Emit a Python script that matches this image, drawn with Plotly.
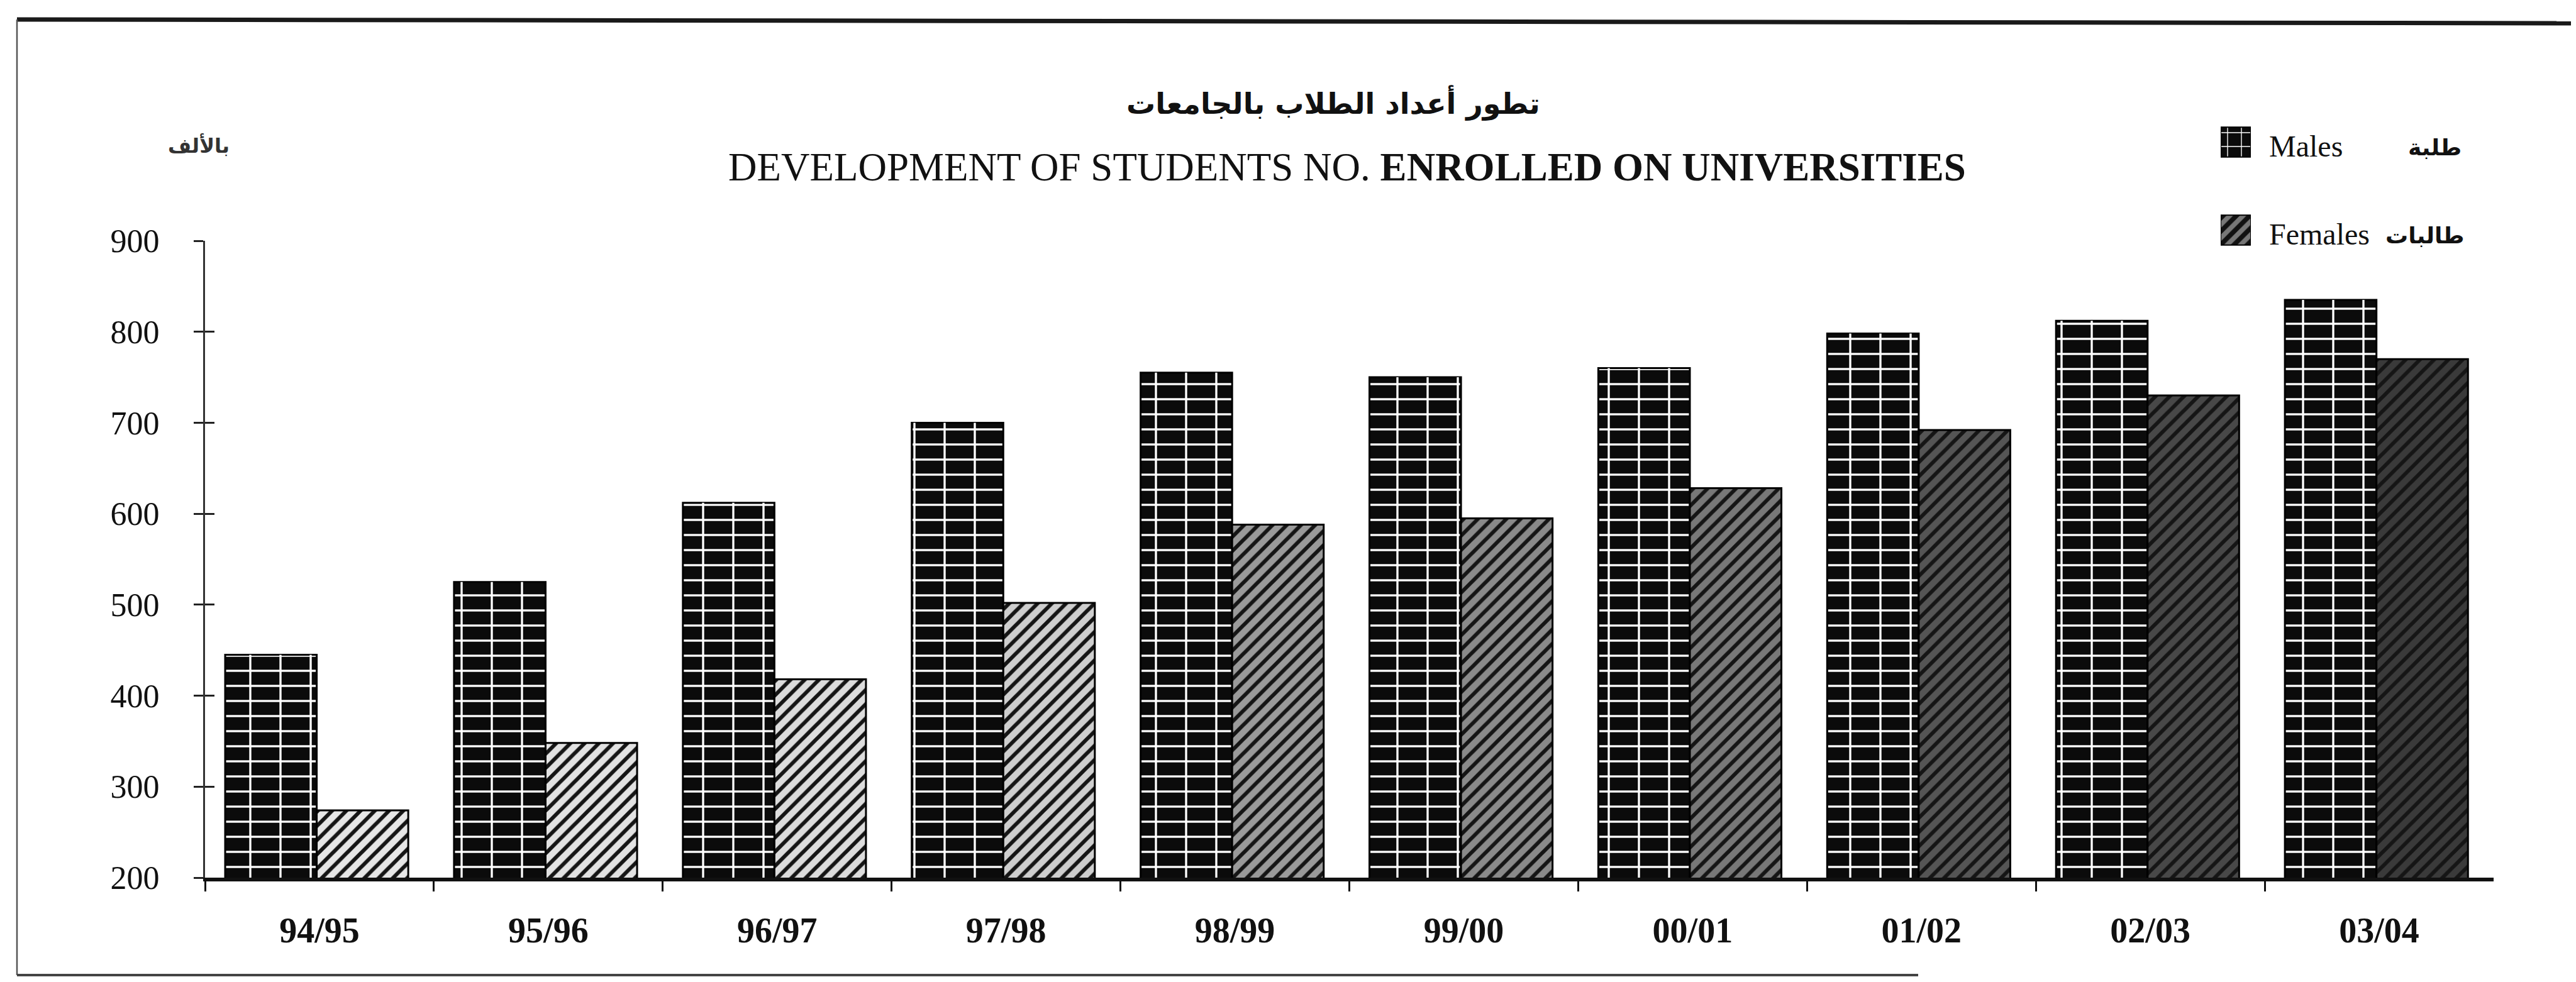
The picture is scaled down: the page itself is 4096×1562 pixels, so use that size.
import plotly.graph_objects as go

# ---------------- data ----------------
categories = ["94/95", "95/96", "96/97", "97/98", "98/99", "99/00", "00/01", "01/02", "02/03", "03/04"]
males = [445, 525, 612, 700, 755, 750, 760, 798, 812, 835]
females = [274, 348, 418, 502, 588, 595, 628, 692, 730, 770]
y_ticks = [200, 300, 400, 500, 600, 700, 800, 900]
title_ar = "تطور أعداد الطلاب بالجامعات"
title_en_1 = "DEVELOPMENT OF STUDENTS NO."
title_en_2 = "ENROLLED ON UNIVERSITIES"
unit_label = "بالألف"
legend_en = ["Males", "Females"]
legend_ar = ["طلبة", "طالبات"]

# ---------------- geometry helpers (window pixels -> paper) ----------------
# the page body has an 8px margin, so the figure is sized to fit inside it
PAD = 8
W, H = 4096 - 2 * PAD, 1562 - 2 * PAD
def fx(p):
    return (p - PAD) / W
def fy(p):
    return 1 - (p - PAD) / H

X0, X1 = 326, 3965     # plot area left/right (window px)
YT, YB = 383, 1396     # plot area top/bottom (window px)

SERIF = "Liberation Serif"
ARAB = "DejaVu Sans"

fem_bg = ["#e6e6e6", "#e2e2e2", "#dcdcdc", "#cecece", "#9a9a9a",
          "#8a8a8a", "#787878", "#555555", "#484848", "#3a3a3a"]

fig = go.Figure()

# Males: dark bricks (horizontal mortar + vertical joints)
fig.add_trace(go.Bar(
    x=categories, y=males, name=legend_en[0],
    offset=-0.412, width=0.40,
    marker=dict(color="#0b0b0b", line=dict(color="#000", width=3),
                pattern=dict(shape="-", size=24, solidity=0.14,
                             fgcolor="white", bgcolor="#0b0b0b", fillmode="replace")),
    showlegend=False,
))
fig.add_trace(go.Bar(
    x=categories, y=males, name=legend_en[0] + " joints",
    offset=-0.412, width=0.40,
    marker=dict(color="rgba(0,0,0,0)", line=dict(width=0),
                pattern=dict(shape="|", size=48, solidity=0.07,
                             fgcolor="white", bgcolor="rgba(0,0,0,0)", fillmode="replace")),
    showlegend=False, hoverinfo="skip",
))
# Females: diagonal hatching
fig.add_trace(go.Bar(
    x=categories, y=females, name=legend_en[1],
    offset=-0.012, width=0.40,
    marker=dict(color="#222", line=dict(color="#000", width=3),
                pattern=dict(shape="/", size=16, solidity=0.38,
                             fgcolor="#151515", bgcolor=fem_bg, fillmode="replace")),
    showlegend=False,
))

# invisible trace to activate the crossing-tick overlay axis
fig.add_trace(go.Scatter(x=[categories[0]], y=[y_ticks[0]], yaxis="y2", mode="markers",
                         marker=dict(opacity=0), showlegend=False, hoverinfo="skip"))

# legend swatches on a tiny helper subplot
fig.add_trace(go.Bar(x=[1], y=[legend_en[0]], orientation="h", width=0.34,
                     xaxis="x3", yaxis="y3", showlegend=False, hoverinfo="skip",
                     marker=dict(color="#0b0b0b", line=dict(color="#000", width=2),
                                 pattern=dict(shape="+", size=22, solidity=0.12,
                                              fgcolor="white", bgcolor="#0b0b0b", fillmode="replace"))))
fig.add_trace(go.Bar(x=[1], y=[legend_en[1]], orientation="h", width=0.34,
                     xaxis="x3", yaxis="y3", showlegend=False, hoverinfo="skip",
                     marker=dict(color="#222", line=dict(color="#000", width=2),
                                 pattern=dict(shape="/", size=15, solidity=0.5,
                                              fgcolor="#111", bgcolor="#777", fillmode="replace"))))

fig.update_layout(
    width=W, height=H,
    margin=dict(l=0, r=0, t=0, b=0, autoexpand=False),
    paper_bgcolor="white", plot_bgcolor="white",
    barmode="overlay",
    showlegend=False,
    font=dict(family=SERIF, color="#111"),
    xaxis=dict(
        domain=[fx(X0), fx(X1)], anchor="y", automargin=False,
        type="category", categoryorder="array", categoryarray=categories,
        range=[-0.5, len(categories) - 0.5],
        tickson="boundaries", ticks="outside", ticklen=16, tickwidth=3, tickcolor="#111",
        showline=True, linewidth=6, linecolor="#111",
        showgrid=False, zeroline=False,
        tickfont=dict(family=SERIF, size=56, color="#111", weight="bold"),
        ticklabelstandoff=30,
    ),
    yaxis=dict(
        domain=[fy(YB), fy(YT)], anchor="x", automargin=False,
        range=[y_ticks[0], y_ticks[-1]],
        tickmode="array", tickvals=y_ticks,
        ticks="outside", ticklen=15, tickwidth=3, tickcolor="#222",
        showline=True, linewidth=3, linecolor="#333",
        showgrid=False, zeroline=False,
        tickfont=dict(family=SERIF, size=52, color="#111"),
        ticklabelstandoff=44,
    ),
    yaxis2=dict(
        overlaying="y", anchor="x", side="left", automargin=False,
        range=[y_ticks[0], y_ticks[-1]],
        tickmode="array", tickvals=y_ticks,
        ticks="inside", ticklen=15, tickwidth=3, tickcolor="#222",
        showticklabels=False, showline=False, showgrid=False, zeroline=False,
    ),
    xaxis3=dict(domain=[fx(3531), fx(3579)], anchor="y3", range=[0, 1],
                visible=False, fixedrange=True, automargin=False),
    yaxis3=dict(domain=[fy(436), fy(156)], anchor="x3", range=[-0.5, 1.5],
                type="category", categoryorder="array",
                categoryarray=[legend_en[1], legend_en[0]],
                visible=False, fixedrange=True, automargin=False),
)

annotations = [
    dict(text="<b>" + title_ar + "</b>", x=fx(2120), y=fy(163),
         font=dict(family=ARAB, size=46, color="#111")),
    dict(text=title_en_1 + " <b>" + title_en_2 + "</b>", x=fx(2142), y=fy(266),
         font=dict(family=SERIF, size=63, color="#111")),
    dict(text="<b>" + unit_label + "</b>", x=fx(316), y=fy(231),
         font=dict(family=ARAB, size=32, color="#333")),
    dict(text=legend_en[0], x=fx(3606), y=fy(233), xanchor="left",
         font=dict(family=SERIF, size=48, color="#111")),
    dict(text=legend_en[1], x=fx(3606), y=fy(372), xanchor="left",
         font=dict(family=SERIF, size=48, color="#111")),
    dict(text="<b>" + legend_ar[0] + "</b>", x=fx(3916), y=fy(235), xanchor="right",
         font=dict(family=ARAB, size=36, color="#111")),
    dict(text="<b>" + legend_ar[1] + "</b>", x=fx(3920), y=fy(374), xanchor="right",
         font=dict(family=ARAB, size=36, color="#111")),
]
for a in annotations:
    a.setdefault("xanchor", "center")
    a.update(xref="paper", yref="paper", yanchor="middle", showarrow=False)
fig.update_layout(annotations=annotations)

# page frame (scanned border)
fig.update_layout(shapes=[
    dict(type="line", xref="paper", yref="paper", x0=fx(27), x1=1, y0=fy(31), y1=fy(37),
         line=dict(color="#1a1a1a", width=7)),
    dict(type="line", xref="paper", yref="paper", x0=fx(27), x1=fx(27), y0=fy(31), y1=fy(1551),
         line=dict(color="#555", width=2.5)),
    dict(type="line", xref="paper", yref="paper", x0=fx(27), x1=fx(3050), y0=fy(1551), y1=fy(1551),
         line=dict(color="#444", width=4)),
])

fig.write_html("out.html")
